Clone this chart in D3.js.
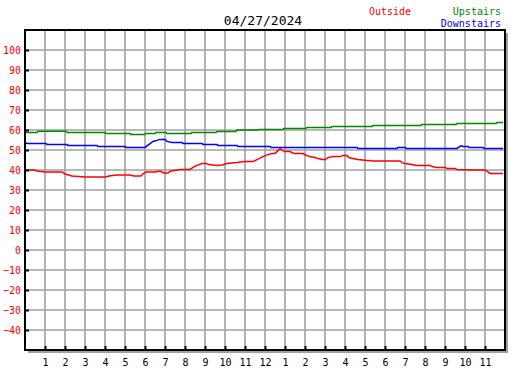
<!DOCTYPE html>
<html lang="en">
<head>
<meta charset="utf-8">
<title>04/27/2024</title>
<script src="https://cdn.jsdelivr.net/npm/d3@7"></script>
<style>
  body { margin: 0; background: #fff; }
  text { font-family: "DejaVu Sans Mono", monospace; }
</style>
</head>
<body>
<script>
// data (hour of day, degrees F)
var title = "04/27/2024";
var hourLabels = ["1","2","3","4","5","6","7","8","9","10","11","12","1","2","3","4","5","6","7","8","9","10","11"];
var yTicks = [-40,-30,-20,-10,0,10,20,30,40,50,60,70,80,90,100];

var outside = [[0,40],[0.5,40],[0.6,39.5],[1,39],[1.85,39],[2,38],[2.35,37],[3,36.5],[4.05,36.5],[4.2,37],
  [4.6,37.5],[5.25,37.5],[5.45,37],[5.8,37],[5.95,38.5],[6.05,39],[6.5,39],[6.75,39.5],[6.95,38.5],[7.15,38.5],
  [7.3,39.5],[7.6,40],[7.75,40.3],[8.25,40.3],[8.4,41.3],[8.6,42.3],[8.85,43.2],[9.05,43.2],[9.2,42.7],[9.6,42.3],
  [9.85,42.5],[10.1,43.2],[10.6,43.7],[11,44.2],[11.4,44.2],[11.6,45.2],[11.8,46.2],[12,47.2],[12.15,47.7],
  [12.35,48.2],[12.5,48.2],[12.6,49.2],[12.75,50.7],[12.9,49.7],[13,49.2],[13.25,49.2],[13.45,48.2],[13.9,48.2],
  [14.05,47.4],[14.25,46.7],[14.5,46.2],[14.65,45.7],[14.85,45.2],[15,45.2],[15.15,46.2],[15.4,46.7],[15.75,46.7],
  [15.9,47.2],[16.1,47.2],[16.2,46.2],[16.4,45.7],[16.65,45.2],[17.1,44.7],[17.25,44.7],[17.4,44.5],[18.75,44.5],
  [18.85,43.7],[19,43.2],[19.35,42.7],[19.6,42.3],[20.25,42.3],[20.35,41.7],[20.6,41.3],[21,41.3],[21.1,40.8],
  [21.5,40.8],[21.6,40.3],[22.35,40],[23,40],[23.1,39.4],[23.25,38.3],[23.9,38.3]];

var upstairs = [[0,58.8],[0.6,58.8],[0.65,59.4],[2.05,59.4],[2.1,58.8],[4,58.8],[4.05,58.3],[5.25,58.3],
  [5.3,57.8],[6,57.8],[6.05,58.3],[6.5,58.3],[6.55,58.8],[7.05,58.8],[7.1,58.3],[8.3,58.3],[8.35,58.8],
  [9.55,58.8],[9.6,59.3],[10.55,59.3],[10.6,60],[11.65,60],[11.7,60.3],[12.9,60.3],[12.95,60.8],[14.05,60.8],
  [14.1,61.3],[15.3,61.3],[15.35,61.8],[17.35,61.8],[17.4,62.3],[19.8,62.3],[19.85,62.8],[21.55,62.8],
  [21.6,63.3],[23.55,63.3],[23.6,63.8],[23.9,63.8]];

var downstairs = [[0,53.8],[0.1,53.3],[1.05,53.3],[1.1,52.8],[2.1,52.8],[2.15,52.3],[3.6,52.3],[3.65,51.8],
  [5,51.8],[5.05,51.3],[6,51.3],[6.4,54.3],[6.6,54.8],[6.75,55.3],[7,55.3],[7.1,54.3],[7.35,53.8],[7.85,53.8],
  [7.9,53.3],[8.85,53.3],[8.9,52.8],[9.6,52.8],[9.65,52.3],[10.6,52.3],[10.65,51.8],[12.25,51.8],[12.3,51.3],
  [16.6,51.3],[16.65,50.8],[18.6,50.8],[18.65,51.3],[19,51.3],[19.05,50.8],[21.6,50.8],[21.75,51.8],[21.8,52.1],
  [21.9,51.8],[22.15,51.8],[22.2,51.3],[22.9,51.3],[22.95,50.8],[23.9,50.8]];

var series = [
  {name: "Outside", color: "#ff0000", values: outside},
  {name: "Upstairs", color: "#008800", values: upstairs},
  {name: "Downstairs", color: "#0000ff", values: downstairs}
];

var W = 527, H = 370;
var pLeft = 25, pTop = 30, pRight = 505, pBottom = 350;

var svg = d3.select("body").append("svg")
  .attr("width", W).attr("height", H);

var x = d3.scaleLinear().domain([0, 24]).range([pLeft, pRight]);
var y = d3.scaleLinear().domain([-50, 110]).range([pBottom, pTop]);

// shadow + plot background
svg.append("rect")
  .attr("x", pLeft + 3).attr("y", pTop + 3)
  .attr("width", pRight - pLeft).attr("height", pBottom - pTop)
  .attr("fill", "#a0a0a0");
svg.append("rect")
  .attr("x", pLeft).attr("y", pTop)
  .attr("width", pRight - pLeft).attr("height", pBottom - pTop)
  .attr("fill", "#fff");

// grid
var grid = svg.append("g").attr("stroke", "#a0a0a0").attr("stroke-width", 1.6);
grid.selectAll("line.v").data(d3.range(1, 24)).enter().append("line")
  .attr("x1", function(d) { return x(d); }).attr("x2", function(d) { return x(d); })
  .attr("y1", pTop).attr("y2", pBottom);
grid.selectAll("line.h").data(d3.range(-40, 110, 10)).enter().append("line")
  .attr("y1", function(d) { return y(d); }).attr("y2", function(d) { return y(d); })
  .attr("x1", pLeft).attr("x2", pRight);

// data lines
var line = d3.line()
  .x(function(d) { return x(d[0]); })
  .y(function(d) { return y(d[1]); });

svg.selectAll("path.series").data(series).enter().append("path")
  .attr("class", "series")
  .attr("d", function(d) { return line(d.values); })
  .attr("fill", "none")
  .attr("stroke", function(d) { return d.color; })
  .attr("stroke-width", 1.5);

// border
svg.append("rect")
  .attr("x", pLeft).attr("y", pTop)
  .attr("width", pRight - pLeft).attr("height", pBottom - pTop)
  .attr("fill", "none").attr("stroke", "#000").attr("stroke-width", 2)
  .attr("shape-rendering", "crispEdges");

// y axis ticks + labels
var yAxis = d3.axisRight(y).tickValues(yTicks).tickSize(4);
var gy = svg.append("g").attr("transform", "translate(" + pLeft + ",0)").call(yAxis);
gy.select(".domain").remove();
gy.selectAll(".tick line").attr("stroke", "#000").attr("stroke-width", 2);
gy.selectAll(".tick text")
  .attr("text-anchor", "end").attr("x", -4)
  .attr("fill", "#ff0000").attr("font-size", 10)
  .style("font-family", "'DejaVu Sans Mono', monospace");

// x axis ticks + labels
var xAxis = d3.axisTop(x).tickValues(d3.range(1, 24))
  .tickFormat(function(d, i) { return hourLabels[i]; }).tickSize(4);
var gx = svg.append("g").attr("transform", "translate(0," + pBottom + ")").call(xAxis);
gx.select(".domain").remove();
gx.selectAll(".tick line").attr("stroke", "#000").attr("stroke-width", 2);
gx.selectAll(".tick text")
  .attr("y", 16).attr("dy", 0)
  .attr("fill", "#000").attr("font-size", 10)
  .style("font-family", "'DejaVu Sans Mono', monospace");

// title
svg.append("text").attr("x", 263).attr("y", 25)
  .attr("text-anchor", "middle").attr("font-size", 13).attr("fill", "#000")
  .text(title);

// legend
svg.append("text").attr("x", 369).attr("y", 15)
  .attr("font-size", 10).attr("fill", series[0].color).text(series[0].name);
svg.append("text").attr("x", 501).attr("y", 15).attr("text-anchor", "end")
  .attr("font-size", 10).attr("fill", series[1].color).text(series[1].name);
svg.append("text").attr("x", 501).attr("y", 27).attr("text-anchor", "end")
  .attr("font-size", 10).attr("fill", series[2].color).text(series[2].name);
</script>
</body>
</html>
